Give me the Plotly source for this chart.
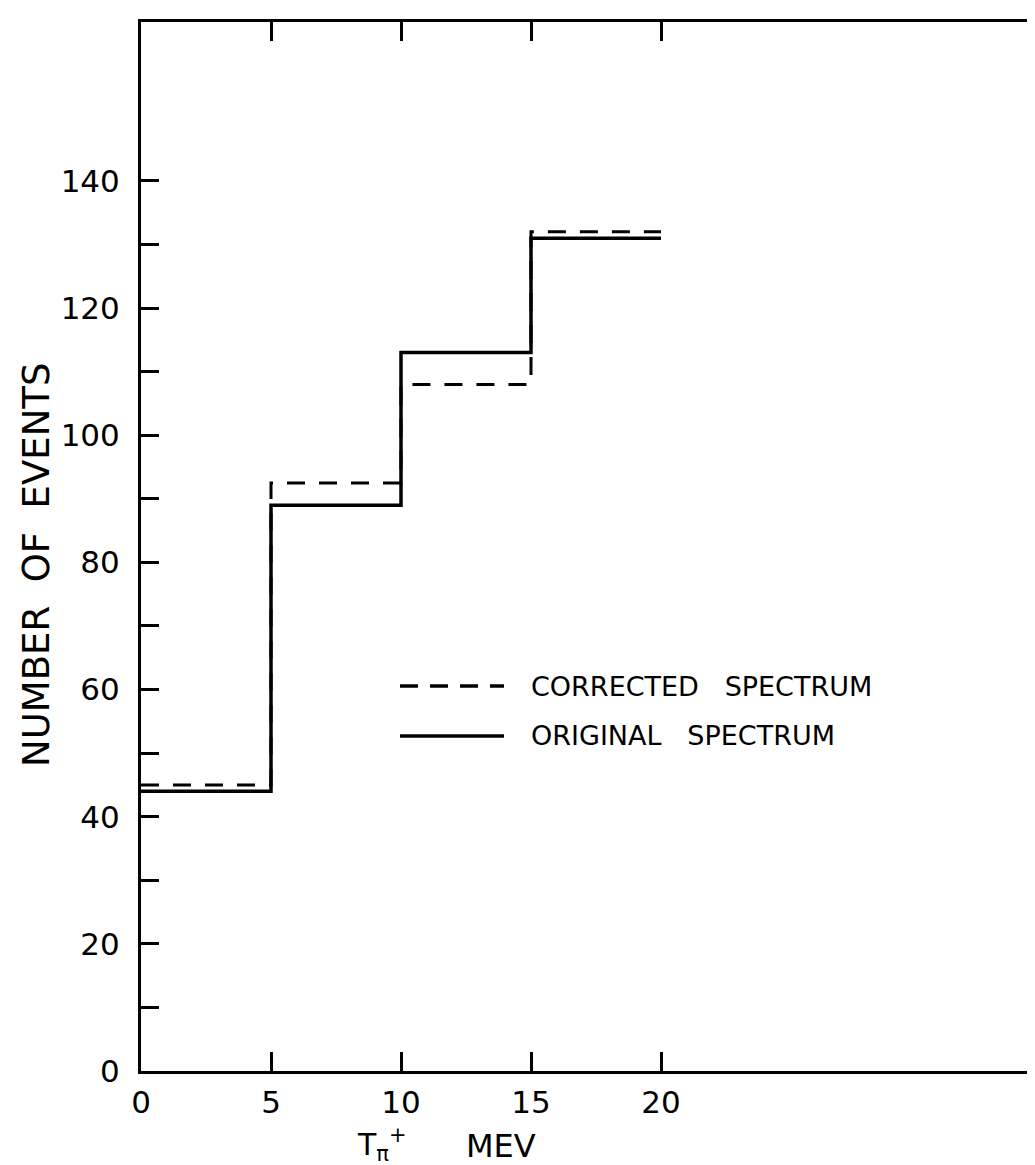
import plotly.graph_objects as go

# ---- data ----
bin_edges = [0, 5, 10, 15, 20]
original_counts = [44, 89, 113, 131]
corrected_counts = [45, 92.5, 108, 132]
x_tick_vals = [0, 5, 10, 15, 20]
x_tick_text = ["0", "5", "10", "15", "20"]
y_tick_vals = [0, 20, 40, 60, 80, 100, 120, 140]
y_tick_text = ["0", "20", "40", "60", "80", "100", "120", "140"]
y_minor_ticks = [10, 30, 50, 70, 90, 110, 130]
y_right_ticks = [10, 20, 30, 40, 50, 60, 70, 80, 90, 100, 110, 120, 130, 140]

W, H = 1035, 1165
L, R, T, B = 133, 0, 14, 102
PW, PH = W - L - R, H - T - B


def px(xp):
    return (xp - L) / PW


def py(yp):
    return (H - B - yp) / PH


def step_xy(edges, vals):
    xs, ys = [], []
    for i, v in enumerate(vals):
        xs += [edges[i], edges[i + 1]]
        ys += [v, v]
    return xs, ys


FONT = "DejaVu Sans"
fig = go.Figure()

xo, yo = step_xy(bin_edges, original_counts)
xc, yc = step_xy(bin_edges, corrected_counts)

fig.add_trace(go.Scatter(x=xc, y=yc, mode="lines",
                         line=dict(color="black", width=3, dash="18px,14px"),
                         name="CORRECTED SPECTRUM", showlegend=False))
fig.add_trace(go.Scatter(x=xo, y=yo, mode="lines",
                         line=dict(color="black", width=3.5),
                         name="ORIGINAL SPECTRUM", showlegend=False))
# invisible trace to carry right-side axis
fig.add_trace(go.Scatter(x=[0], y=[0], yaxis="y2", mode="markers",
                         marker=dict(opacity=0), showlegend=False, hoverinfo="skip"))

fig.update_layout(
    width=W, height=H,
    margin=dict(l=L, r=R, t=T, b=B),
    paper_bgcolor="white", plot_bgcolor="white",
    font=dict(family=FONT, color="black"),
    xaxis=dict(range=[0, PW / 26.0], tickvals=x_tick_vals, ticktext=x_tick_text,
               ticks="inside", ticklen=19, tickwidth=3, tickcolor="black",
               showline=True, linewidth=3, linecolor="black", mirror="ticks",
               showgrid=False, zeroline=False,
               tickfont=dict(family=FONT, size=31, color="black"),
               ticklabelstandoff=2),
    yaxis=dict(range=[0, 165], tickvals=y_tick_vals, ticktext=y_tick_text,
               ticks="inside", ticklen=18, tickwidth=3, tickcolor="black",
               minor=dict(tickmode="array", tickvals=y_minor_ticks,
                          ticks="inside", ticklen=18, tickwidth=3, tickcolor="black",
                          showgrid=False),
               showline=True, linewidth=3, linecolor="black",
               showgrid=False, zeroline=False,
               tickfont=dict(family=FONT, size=31, color="black"),
               ticklabelstandoff=12),
    yaxis2=dict(range=[0, 165], overlaying="y", side="right",
                tickvals=y_right_ticks, showticklabels=False,
                ticks="inside", ticklen=16, tickwidth=3, tickcolor="black",
                showline=False, showgrid=False, zeroline=False),
)

# axis titles
fig.add_annotation(text="NUMBER\u00a0\u00a0OF\u00a0\u00a0EVENTS", textangle=-90,
                   xref="paper", yref="paper", x=px(28), y=py(557),
                   xanchor="center", yanchor="middle", showarrow=False,
                   font=dict(family=FONT, size=37, color="black"))
fig.add_annotation(text="T<sub>\u03c0</sub><sup>+</sup>",
                   xref="paper", yref="paper", x=px(347), y=py(1136),
                   xanchor="left", yanchor="middle", showarrow=False,
                   font=dict(family=FONT, size=30, color="black"))
fig.add_annotation(text="MEV",
                   xref="paper", yref="paper", x=px(456), y=py(1138),
                   xanchor="left", yanchor="middle", showarrow=False,
                   font=dict(family=FONT, size=32, color="black"))

# legend drawn inside plot
legend_items = [("CORRECTED\u00a0\u00a0\u00a0SPECTRUM", "18px,12px", 678),
                ("ORIGINAL\u00a0\u00a0\u00a0SPECTRUM", "solid", 728)]
for label, dash, yp in legend_items:
    fig.add_shape(type="line", xref="paper", yref="paper",
                  x0=px(392), x1=px(496), y0=py(yp), y1=py(yp),
                  line=dict(color="black", width=3.5, dash=dash))
    fig.add_annotation(text=label, xref="paper", yref="paper",
                       x=px(521), y=py(yp), xanchor="left", yanchor="middle",
                       showarrow=False,
                       font=dict(family=FONT, size=27, color="black"))

fig.write_html("out.html")
